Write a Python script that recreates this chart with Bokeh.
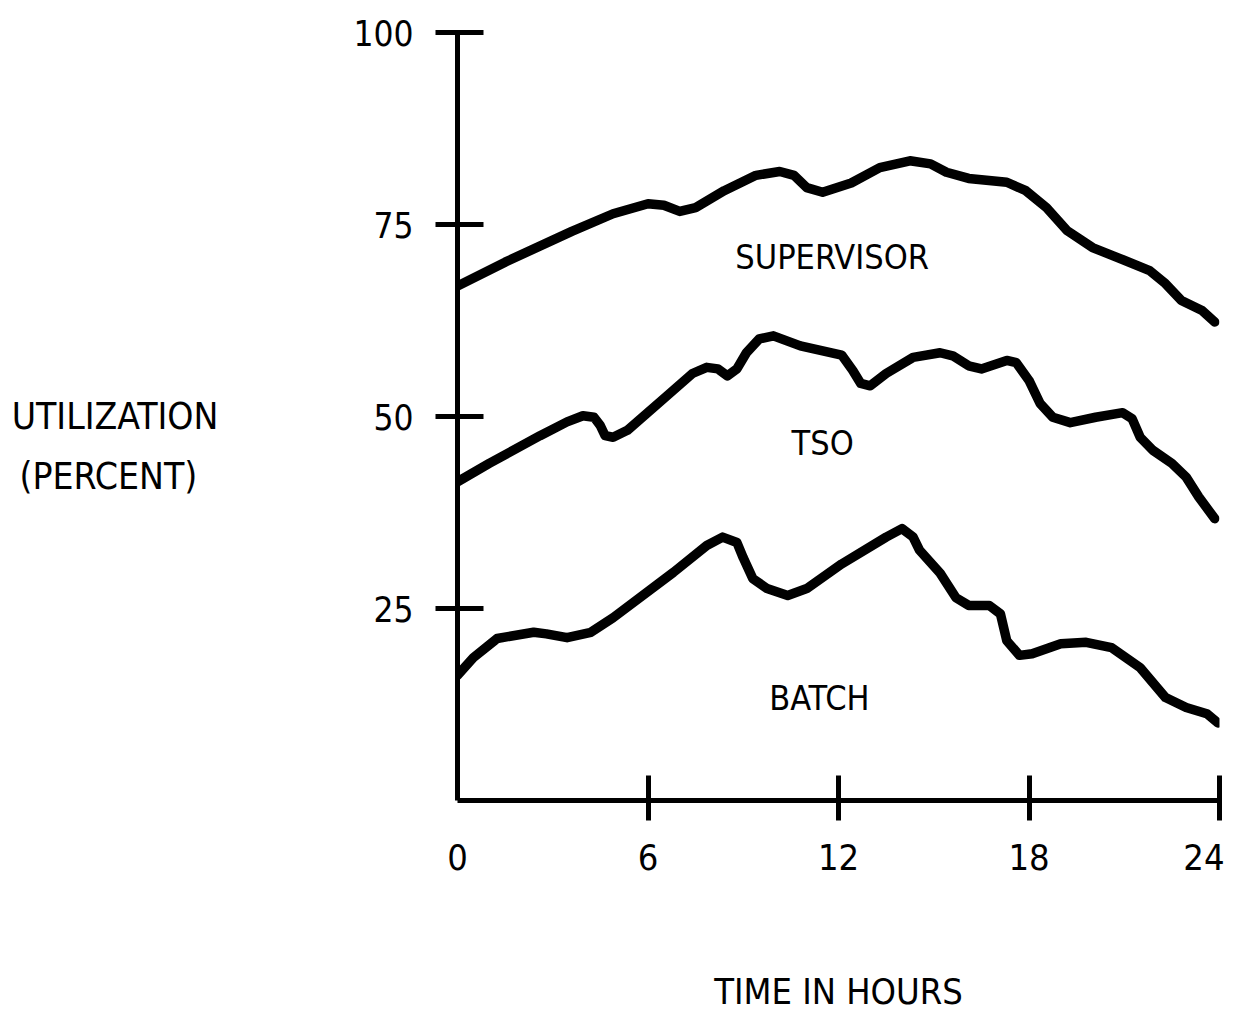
from bokeh.plotting import figure
from bokeh.models import Range1d, FixedTicker, Label, LinearAxis
from bokeh.embed import file_html
from bokeh.resources import INLINE

# ---- data ----
sup_x = [0, 1.5, 3.6, 4.9, 6.0, 6.5, 7.0, 7.5, 8.4, 9.4, 10.15, 10.6, 11.0, 11.5,
         12.4, 13.3, 14.25, 14.9, 15.4, 16.1, 17.3, 17.9, 18.55, 19.2, 20.0, 20.85,
         21.8, 22.3, 22.8, 23.45, 23.85]
sup_y = [67.0, 70.1, 74.1, 76.4, 77.7, 77.5, 76.7, 77.2, 79.4, 81.4, 81.9, 81.4, 79.8, 79.2,
         80.4, 82.4, 83.3, 82.9, 81.8, 81.0, 80.5, 79.4, 77.2, 74.2, 72.0, 70.6,
         69.0, 67.3, 65.1, 63.8, 62.3]

tso_x = [0, 1.0, 2.6, 3.45, 3.95, 4.3, 4.5, 4.65, 4.9, 5.35, 6.6, 7.4, 7.85, 8.2, 8.5, 8.8,
         9.1, 9.5, 9.95, 10.8, 12.1, 12.45, 12.7, 13.0, 13.5, 14.35, 15.2, 15.6, 16.1, 16.5,
         17.3, 17.6, 18.0, 18.35, 18.75, 19.3, 20.1, 20.95, 21.25, 21.5, 21.9, 22.5, 22.95,
         23.35, 23.85]
tso_y = [41.5, 43.9, 47.5, 49.3, 50.1, 49.9, 48.8, 47.5, 47.3, 48.2, 52.7, 55.6, 56.4, 56.2,
         55.3, 56.2, 58.3, 60.1, 60.5, 59.2, 58.0, 56.0, 54.3, 54.0, 55.6, 57.7, 58.3, 57.9,
         56.6, 56.2, 57.3, 57.0, 54.7, 51.7, 49.9, 49.2, 49.9, 50.5, 49.7, 47.3, 45.6, 43.9,
         42.1, 39.5, 36.7]

batch_x = [0, 0.5, 1.25, 2.4, 2.8, 3.45, 4.2, 4.9, 6.8, 7.85, 8.35, 8.8, 9.0, 9.3, 9.75,
           10.4, 11.0, 12.1, 13.5, 14.0, 14.35, 14.55, 15.2, 15.7, 16.1, 16.75, 17.1, 17.3,
           17.7, 18.1, 19.0, 19.8, 20.6, 21.5, 22.3, 22.95, 23.6, 23.95]
batch_y = [16.3, 18.6, 21.1, 21.9, 21.7, 21.2, 21.9, 23.8, 29.7, 33.2, 34.3, 33.6, 31.6, 28.9,
           27.6, 26.7, 27.6, 30.8, 34.3, 35.4, 34.3, 32.6, 29.6, 26.4, 25.4, 25.4, 24.3, 20.8,
           18.9, 19.1, 20.4, 20.6, 19.9, 17.3, 13.4, 12.1, 11.3, 10.1]

x_tick_marks = [6, 12, 18, 24]
x_tick_labels = [0, 6, 12, 18, 24]
y_ticks = [25, 50, 75, 100]
series_names = ["SUPERVISOR", "TSO", "BATCH"]
series_label_pos = [(11.8, 70.8), (11.5, 46.5), (11.4, 13.3)]
x_title = "TIME IN HOURS"
y_title = "\nUTILIZATION\n(PERCENT)\u00a0\u00a0"

FONT = "DejaVu Sans Condensed, Roboto"

p = figure(width=1224, height=1016, output_backend="svg", toolbar_location=None,
           x_range=Range1d(0, 24), y_range=Range1d(0, 100),
           min_border_left=457, min_border_right=5, min_border_top=32,
           min_border_bottom=216)
p.title.visible = False
p.outline_line_color = None
p.grid.visible = False
p.background_fill_color = "white"
p.border_fill_color = "white"

# y axis
ya = p.yaxis[0]
ya.ticker = FixedTicker(ticks=y_ticks)
ya.axis_line_width = 5
ya.axis_line_color = "black"
ya.major_tick_line_width = 5
ya.major_tick_line_color = "black"
ya.major_tick_in = 26
ya.major_tick_out = 22
ya.minor_tick_line_color = None
ya.major_label_text_font = FONT
ya.major_label_text_font_size = "35px"
ya.major_label_text_color = "black"
ya.major_label_standoff = 22
ya.axis_label = y_title
ya.axis_label_orientation = "horizontal"
ya.axis_label_text_font = FONT
ya.axis_label_text_font_size = "37px"
ya.axis_label_text_font_style = "normal"
ya.axis_label_text_color = "black"
ya.axis_label_text_line_height = 1.4
ya.axis_label_standoff = 132

# x axis: tick marks only
xa = p.xaxis[0]
xa.ticker = FixedTicker(ticks=x_tick_marks)
xa.axis_line_width = 5
xa.axis_line_color = "black"
xa.major_tick_line_width = 5
xa.major_tick_line_color = "black"
xa.major_tick_in = 25
xa.major_tick_out = 20
xa.minor_tick_line_color = None
xa.major_label_text_font_size = "1px"
xa.major_label_text_color = None
xa.major_label_standoff = 0

# second x axis: labels (incl. 0) and title
xb = LinearAxis(ticker=FixedTicker(ticks=x_tick_labels))
xb.axis_line_color = None
xb.major_tick_line_color = None
xb.minor_tick_line_color = None
xb.major_tick_in = 0
xb.major_tick_out = 0
xb.major_label_text_font = FONT
xb.major_label_text_font_size = "36px"
xb.major_label_text_color = "black"
xb.major_label_standoff = 23
xb.axis_label = x_title
xb.axis_label_text_font = FONT
xb.axis_label_text_font_size = "36px"
xb.axis_label_text_font_style = "normal"
xb.axis_label_text_color = "black"
xb.axis_label_standoff = 98
p.add_layout(xb, "below")

for xs, ys in ((sup_x, sup_y), (tso_x, tso_y), (batch_x, batch_y)):
    p.line(xs, ys, line_width=9.5, line_color="black", line_cap="round", line_join="round")

for name, (lx, ly) in zip(series_names, series_label_pos):
    p.add_layout(Label(x=lx, y=ly, text=name, text_font=FONT, text_font_size="34px",
                       text_align="center", text_baseline="middle", text_color="black"))

open("out.html", "w").write(file_html(p, INLINE))
